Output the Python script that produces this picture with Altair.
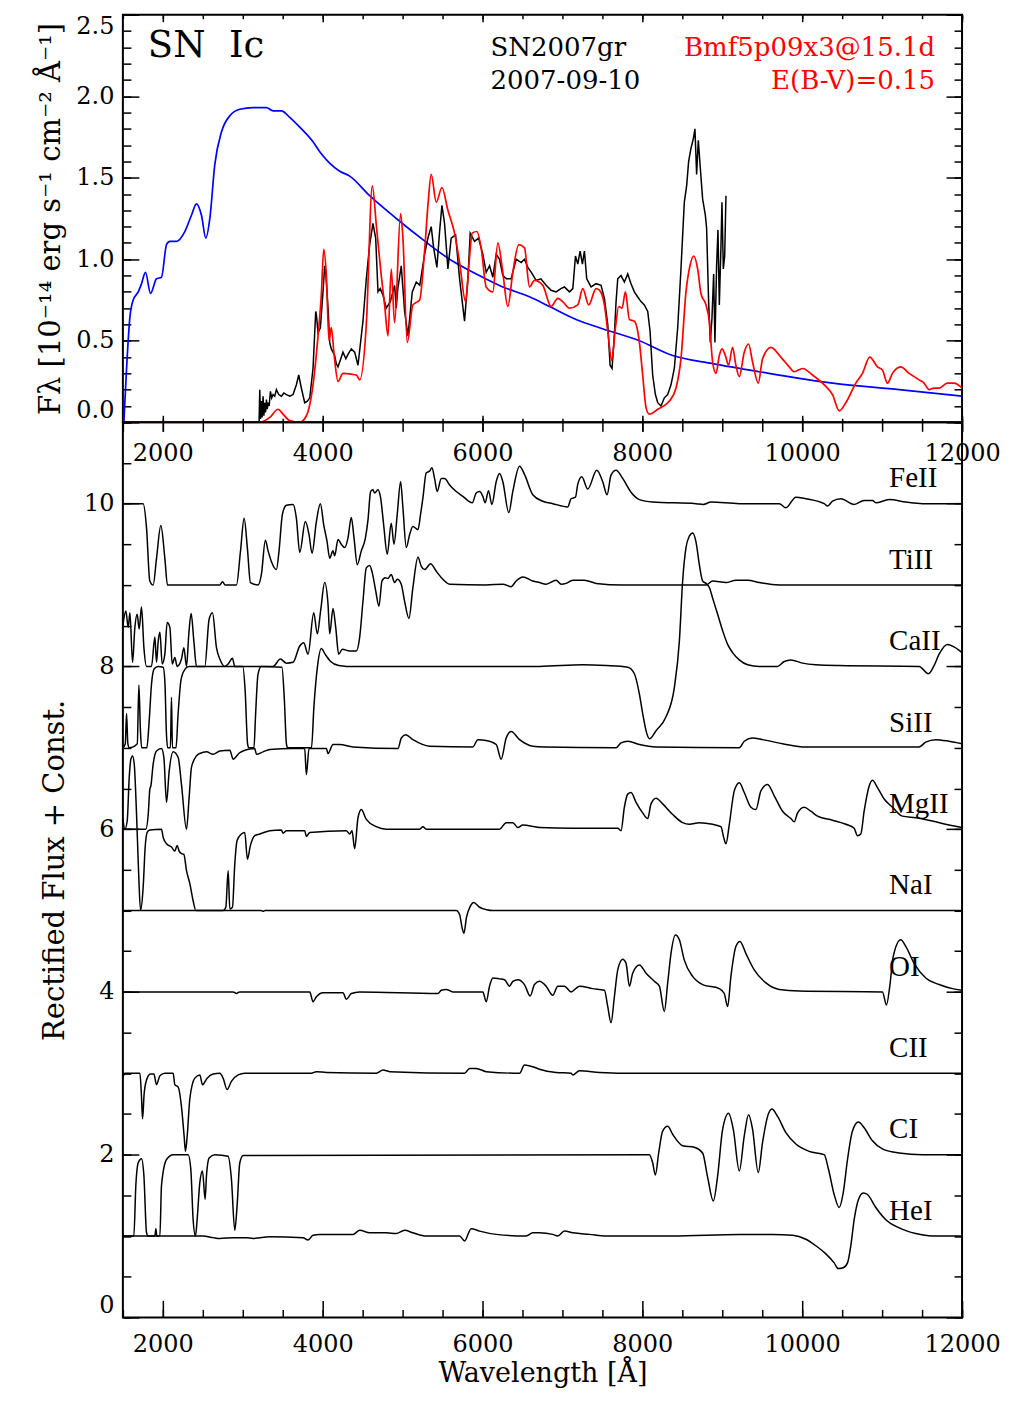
import altair as alt
import pandas as pd

# ---------------- data (wavelength [A], value) ----------------
blue_model = [(1512, 0.0), (1546, 0.33), (1587, 0.64), (1629, 0.75), (1692, 0.80), (1733, 0.85), (1783, 0.92),
              (1846, 0.79), (1921, 0.88), (1983, 0.89), (2046, 1.09), (2088, 1.11), (2171, 1.11), (2275, 1.17),
              (2358, 1.27), (2421, 1.34), (2483, 1.27), (2538, 1.13), (2588, 1.25), (2650, 1.58), (2733, 1.78),
              (2838, 1.88), (2963, 1.92), (3129, 1.93), (3296, 1.93), (3379, 1.91), (3483, 1.91), (3588, 1.87),
              (3713, 1.81), (3879, 1.72), (3963, 1.66), (4213, 1.54), (4338, 1.51), (4588, 1.39), (4921, 1.25),
              (5254, 1.12), (5588, 1.00), (5921, 0.91), (6254, 0.83), (6588, 0.77), (6838, 0.71), (7171, 0.63),
              (7463, 0.58), (7963, 0.50), (8379, 0.41), (8879, 0.36), (9463, 0.31), (10379, 0.24), (11213, 0.20),
              (12000, 0.16)]

red_model = [(1500, 0.0), (3213, 0.0), (3338, 0.03), (3442, 0.08), (3504, 0.05), (3588, 0.01), (3713, 0.0),
             (3796, 0.04), (3879, 0.23), (3942, 0.53), (3983, 0.78), (4013, 1.06), (4046, 0.90), (4079, 0.50),
             (4108, 0.58), (4142, 0.42), (4192, 0.25), (4254, 0.30), (4421, 0.29), (4463, 0.26), (4546, 0.60),
             (4621, 1.45), (4671, 1.21), (4733, 0.90), (4775, 0.72), (4817, 0.53), (4858, 0.94), (4900, 0.61),
             (4975, 1.28), (5004, 1.13), (5058, 0.49), (5129, 0.72), (5213, 0.75), (5275, 1.05), (5317, 1.33),
             (5358, 1.52), (5421, 1.35), (5492, 1.44), (5567, 1.30), (5650, 1.16), (5713, 0.98), (5788, 0.74),
             (5829, 0.96), (5871, 1.16), (5929, 1.17), (5983, 1.07), (6046, 0.83), (6129, 0.80), (6192, 1.10),
             (6246, 0.95), (6317, 0.71), (6379, 0.92), (6454, 1.09), (6525, 1.07), (6588, 0.83), (6650, 0.87),
             (6754, 0.84), (6858, 0.71), (6942, 0.76), (7004, 0.74), (7088, 0.70), (7192, 0.72), (7254, 0.82),
             (7329, 0.72), (7421, 0.82), (7463, 0.81), (7525, 0.72), (7567, 0.56), (7617, 0.38), (7663, 0.58),
             (7704, 0.71), (7746, 0.70), (7788, 0.80), (7838, 0.63), (7900, 0.62), (7963, 0.49), (8004, 0.29),
             (8046, 0.09), (8088, 0.05), (8192, 0.08), (8338, 0.13), (8421, 0.21), (8483, 0.39), (8546, 0.80),
             (8596, 0.96), (8642, 1.02), (8692, 0.94), (8733, 0.79), (8796, 0.72), (8838, 0.62), (8879, 0.37),
             (8921, 0.30), (8963, 0.41), (8996, 0.45), (9038, 0.41), (9079, 0.35), (9129, 0.46), (9170, 0.35),
             (9213, 0.28), (9275, 0.43), (9329, 0.48), (9379, 0.37), (9450, 0.24), (9504, 0.39), (9608, 0.46),
             (9733, 0.40), (9838, 0.34), (9900, 0.31), (10004, 0.33), (10129, 0.29), (10296, 0.22), (10379, 0.17),
             (10463, 0.07), (10546, 0.12), (10671, 0.24), (10754, 0.30), (10846, 0.40), (10942, 0.34), (11004, 0.32),
             (11067, 0.24), (11129, 0.30), (11233, 0.34), (11338, 0.30), (11463, 0.26), (11525, 0.24), (11588, 0.20),
             (11650, 0.21), (11713, 0.21), (11817, 0.24), (11900, 0.24), (12000, 0.21)]

observed = [(3204, 0.0), (3213, 0.20), (3222, 0.02), (3233, 0.13), (3242, 0.03), (3254, 0.16), (3264, 0.04),
            (3275, 0.12), (3285, 0.06), (3296, 0.14), (3306, 0.08), (3317, 0.12), (3330, 0.10), (3346, 0.19),
            (3362, 0.15), (3379, 0.17), (3400, 0.16), (3421, 0.20), (3450, 0.17), (3483, 0.16), (3515, 0.18),
            (3546, 0.17), (3590, 0.16), (3629, 0.17), (3671, 0.23), (3700, 0.29), (3733, 0.21), (3775, 0.12),
            (3808, 0.13), (3838, 0.15), (3879, 0.33), (3913, 0.68), (3921, 0.66), (3942, 0.55), (3971, 0.58),
            (4004, 0.80), (4025, 0.96), (4038, 0.92), (4067, 0.70), (4088, 0.49), (4108, 0.45), (4150, 0.41),
            (4170, 0.36), (4192, 0.34), (4220, 0.38), (4254, 0.43), (4290, 0.39), (4320, 0.42), (4358, 0.45),
            (4400, 0.43), (4442, 0.35), (4504, 0.62), (4546, 0.88), (4588, 1.09), (4629, 1.22), (4663, 1.13),
            (4692, 0.80), (4720, 0.82), (4754, 0.78), (4796, 0.70), (4846, 0.74), (4900, 0.84), (4920, 0.70),
            (4940, 0.82), (4983, 0.96), (5025, 0.68), (5067, 0.53), (5121, 0.80), (5171, 0.86), (5215, 0.84),
            (5275, 1.03), (5317, 1.13), (5358, 1.20), (5388, 1.07), (5429, 0.95), (5463, 1.17), (5492, 1.33),
            (5525, 1.22), (5567, 0.94), (5608, 1.13), (5663, 1.15), (5713, 0.88), (5775, 0.62), (5817, 0.88),
            (5846, 1.16), (5900, 1.11), (5950, 1.13), (6004, 1.03), (6046, 0.92), (6088, 0.96), (6129, 0.89),
            (6171, 1.03), (6213, 1.00), (6254, 0.90), (6300, 0.88), (6358, 0.88), (6421, 1.00), (6483, 0.98),
            (6525, 1.00), (6567, 0.95), (6610, 0.92), (6671, 0.87), (6730, 0.88), (6796, 0.84), (6858, 0.81),
            (6921, 0.80), (6980, 0.82), (7025, 0.83), (7088, 0.80), (7130, 0.82), (7163, 1.02), (7192, 0.97),
            (7221, 1.05), (7250, 0.97), (7275, 1.05), (7304, 0.88), (7358, 0.83), (7421, 0.85), (7483, 0.84),
            (7525, 0.76), (7567, 0.60), (7596, 0.35), (7621, 0.33), (7650, 0.54), (7671, 0.74), (7692, 0.88),
            (7733, 0.90), (7775, 0.86), (7817, 0.91), (7858, 0.85), (7900, 0.80), (7940, 0.77), (7983, 0.74),
            (8025, 0.72), (8067, 0.68), (8096, 0.56), (8129, 0.29), (8163, 0.17), (8192, 0.12), (8233, 0.10),
            (8275, 0.15), (8317, 0.17), (8358, 0.23), (8400, 0.33), (8442, 0.58), (8483, 0.94), (8525, 1.35),
            (8554, 1.45), (8579, 1.60), (8608, 1.68), (8638, 1.74), (8658, 1.80), (8679, 1.52), (8700, 1.73),
            (8725, 1.56), (8754, 1.37), (8788, 1.27), (8804, 1.19), (8829, 0.74), (8850, 0.49), (8871, 0.64),
            (8892, 0.91), (8908, 0.49), (8929, 0.96), (8946, 1.18), (8963, 0.72), (8983, 1.07), (8996, 1.35),
            (9013, 0.94), (9030, 1.02), (9046, 1.39)]

# rectified flux + const for each ion
fe_ii = [(1500, 10.0), (1754, 10.0), (1796, 9.70), (1837, 9.05), (1879, 9.0), (1921, 9.33), (1975, 9.73),
         (2025, 9.33), (2058, 9.0), (2712, 9.0), (2746, 9.04), (2780, 9.0), (2921, 9.0), (2971, 9.41),
         (3017, 9.82), (3058, 9.45), (3096, 9.03), (3192, 9.0), (3233, 9.13), (3283, 9.55), (3317, 9.42),
         (3358, 9.29), (3421, 9.19), (3454, 9.42), (3496, 9.87), (3546, 9.98), (3629, 9.99), (3671, 9.82),
         (3713, 9.40), (3783, 9.78), (3829, 9.62), (3867, 9.39), (3921, 9.78), (3971, 10.0), (4013, 9.74),
         (4054, 9.54), (4088, 9.33), (4129, 9.42), (4150, 9.36), (4192, 9.56), (4233, 9.50), (4275, 9.46),
         (4317, 9.58), (4358, 9.83), (4392, 9.58), (4433, 9.25), (4483, 9.42), (4533, 9.57), (4567, 9.80),
         (4600, 10.15), (4629, 10.17), (4650, 10.13), (4692, 10.17), (4725, 10.07), (4763, 9.74), (4808, 9.38),
         (4858, 9.76), (4892, 9.50), (4933, 9.87), (4975, 10.27), (5004, 9.95), (5046, 9.46), (5088, 9.62),
         (5129, 9.72), (5192, 9.68), (5225, 9.87), (5254, 10.07), (5296, 10.38), (5338, 10.40), (5367, 10.44),
         (5400, 10.31), (5433, 10.15), (5484, 10.31), (5525, 10.31), (5588, 10.23), (5671, 10.15), (5754, 10.09),
         (5871, 10.01), (5921, 10.13), (5963, 10.15), (6004, 10.09), (6033, 10.01), (6075, 10.16), (6117, 9.99),
         (6171, 10.27), (6213, 10.37), (6254, 10.27), (6329, 9.89), (6379, 10.15), (6463, 10.46), (6525, 10.36),
         (6629, 10.11), (6754, 10.03), (6879, 10.0), (7067, 9.96), (7108, 10.06), (7163, 10.08), (7192, 10.24),
         (7242, 10.33), (7317, 10.18), (7429, 10.41), (7504, 10.27), (7558, 10.11), (7608, 10.35), (7671, 10.41),
         (7754, 10.31), (7858, 10.14), (7963, 10.05), (8129, 10.02), (8671, 10.0), (8763, 9.99), (8858, 10.02),
         (9213, 10.0), (9713, 10.0), (9796, 9.95), (9921, 10.08), (10046, 10.06), (10275, 10.0), (10317, 9.97),
         (10379, 10.03), (10484, 10.06), (10650, 9.99), (10775, 10.04), (10879, 10.04), (10921, 10.01),
         (11088, 10.05), (11296, 10.02), (11504, 10.0), (12000, 10.0)]

ti_ii = [(1500, 8.50), (1537, 8.68), (1567, 8.48), (1588, 8.66), (1621, 8.05), (1650, 8.48), (1679, 8.64),
         (1704, 8.46), (1733, 8.73), (1763, 8.23), (1796, 8.0), (1858, 8.0), (1900, 8.36), (1921, 8.05),
         (1942, 8.31), (1963, 8.42), (1992, 8.03), (2025, 8.15), (2054, 8.54), (2088, 8.48), (2117, 8.03),
         (2150, 8.11), (2179, 8.0), (2233, 8.09), (2263, 8.23), (2296, 8.0), (2325, 8.40), (2354, 8.65),
         (2388, 8.31), (2421, 8.0), (2525, 8.0), (2579, 8.58), (2621, 8.66), (2671, 8.23), (2713, 8.09),
         (2775, 8.0), (2817, 8.03), (2871, 8.10), (2900, 8.0), (3379, 8.0), (3471, 8.09), (3546, 8.04),
         (3629, 8.05), (3713, 8.25), (3763, 8.29), (3817, 8.15), (3888, 8.66), (3933, 8.40), (3975, 8.69),
         (4025, 9.03), (4067, 8.76), (4088, 8.40), (4129, 8.71), (4163, 8.48), (4200, 8.15), (4246, 8.21),
         (4338, 8.19), (4421, 8.19), (4463, 8.36), (4504, 8.80), (4546, 9.21), (4588, 9.24), (4621, 9.15),
         (4663, 8.93), (4704, 8.74), (4742, 9.05), (4783, 9.09), (4817, 9.08), (4858, 9.13), (4900, 9.03),
         (4933, 9.07), (4983, 9.01), (5025, 8.80), (5079, 8.59), (5129, 8.97), (5192, 9.34), (5234, 9.23),
         (5275, 9.19), (5350, 9.26), (5421, 9.17), (5504, 9.07), (5588, 9.01), (6046, 9.0), (6254, 9.01),
         (6358, 8.98), (6421, 9.05), (6504, 9.10), (6629, 9.05), (6712, 9.03), (6796, 9.01), (6921, 9.06),
         (6985, 9.01), (7046, 9.02), (7129, 9.06), (7275, 9.06), (7421, 9.02), (7754, 9.0), (8796, 9.0),
         (8879, 9.05), (9046, 9.03), (9171, 9.06), (9317, 9.06), (9463, 9.03), (9713, 9.0), (12000, 9.0)]

ca_ii = [(1500, 7.0), (1530, 7.05), (1546, 7.42), (1562, 7.05), (1580, 7.0), (1680, 7.05), (1700, 7.77),
         (1720, 7.20), (1735, 7.0), (1800, 7.0), (1829, 7.33), (1858, 7.78), (1892, 7.97), (1942, 8.0),
         (2004, 7.99), (2025, 7.82), (2046, 7.15), (2060, 7.0), (2095, 7.0), (2108, 7.62), (2120, 7.0),
         (2165, 7.0), (2190, 7.40), (2230, 7.85), (2290, 7.98), (2330, 8.0), (3000, 8.0), (3030, 7.70),
         (3060, 7.05), (3075, 7.0), (3140, 7.0), (3160, 7.40), (3190, 7.90), (3230, 8.0), (3490, 7.99),
         (3520, 7.60), (3546, 7.05), (3560, 7.0), (3860, 7.0), (3890, 7.50), (3935, 8.0), (3983, 8.22),
         (4030, 8.15), (4100, 8.06), (4200, 8.01), (4300, 8.0), (6712, 8.0), (7254, 8.02), (7546, 8.01),
         (7817, 7.99), (7900, 7.91), (7963, 7.66), (8004, 7.42), (8054, 7.18), (8090, 7.11), (8171, 7.21),
         (8296, 7.38), (8400, 7.74), (8463, 8.31), (8504, 9.05), (8546, 9.46), (8588, 9.60), (8629, 9.64),
         (8671, 9.53), (8713, 9.25), (8754, 9.05), (8796, 9.02), (8838, 8.97), (8879, 8.84), (8942, 8.64),
         (9004, 8.44), (9067, 8.27), (9129, 8.17), (9213, 8.08), (9317, 8.02), (9463, 8.0), (9692, 8.0),
         (9775, 8.06), (9858, 8.08), (10004, 8.04), (10171, 8.02), (10463, 8.01), (11463, 8.0), (11579, 7.91),
         (11650, 8.01), (11713, 8.15), (11817, 8.27), (11900, 8.24), (12000, 8.17)]

si_ii = [(1500, 6.0), (1788, 6.0), (1817, 6.18), (1837, 6.49), (1850, 6.53), (1879, 6.80), (1921, 6.96),
         (1983, 6.99), (2013, 6.88), (2046, 6.33), (2079, 6.71), (2129, 6.95), (2192, 6.88), (2233, 6.55),
         (2296, 6.0), (2329, 6.39), (2358, 6.76), (2421, 6.90), (2463, 6.93), (2546, 6.95), (2629, 6.92),
         (2713, 6.96), (2838, 6.97), (2879, 6.86), (2963, 6.94), (3150, 6.99), (3171, 6.92), (3254, 6.95),
         (3338, 6.98), (3629, 6.99), (3775, 6.99), (3796, 6.67), (3829, 6.99), (4046, 6.99), (4067, 6.93),
         (4129, 7.04), (4213, 7.04), (4379, 7.01), (4942, 6.99), (4984, 7.12), (5038, 7.16), (5129, 7.10),
         (5338, 7.02), (5879, 7.01), (5942, 7.10), (6046, 7.09), (6171, 7.04), (6233, 6.86), (6296, 7.12),
         (6358, 7.20), (6463, 7.10), (6629, 7.02), (6775, 7.01), (7671, 7.0), (7733, 7.06), (7817, 7.08),
         (7963, 7.04), (8171, 7.01), (9213, 7.0), (9275, 7.08), (9379, 7.12), (9504, 7.10), (9754, 7.05),
         (10046, 7.01), (11463, 7.01), (11546, 7.07), (11671, 7.10), (11838, 7.08), (12000, 7.05)]

mg_ii = [(1500, 6.13), (1525, 6.0), (1554, 6.10), (1579, 6.63), (1600, 6.86), (1621, 6.90), (1642, 6.80),
         (1671, 6.18), (1696, 5.49), (1721, 5.0), (1754, 5.29), (1779, 5.78), (1804, 5.96), (1837, 5.99),
         (1983, 6.0), (2004, 5.90), (2046, 5.82), (2108, 5.78), (2150, 5.73), (2179, 5.80), (2204, 5.73),
         (2233, 5.70), (2263, 5.69), (2296, 5.49), (2338, 5.33), (2379, 5.12), (2413, 5.0), (2754, 5.0),
         (2788, 5.04), (2817, 5.49), (2838, 5.02), (2871, 5.04), (2900, 5.57), (2929, 5.86), (2983, 5.94),
         (3025, 5.96), (3058, 5.63), (3096, 5.80), (3150, 5.92), (3213, 5.94), (3338, 5.98), (3483, 5.99),
         (3504, 5.95), (3546, 5.98), (3775, 5.98), (3796, 5.91), (3838, 5.96), (4296, 5.98), (4338, 5.94),
         (4367, 5.98), (4400, 5.76), (4442, 6.14), (4483, 6.24), (4546, 6.12), (4671, 6.03), (4796, 6.0),
         (5213, 6.0), (5254, 6.03), (5296, 6.0), (6213, 6.0), (6296, 6.08), (6379, 6.08), (6442, 6.02),
         (6504, 6.05), (6712, 6.02), (7129, 6.01), (7692, 6.01), (7733, 5.98), (7775, 6.27), (7817, 6.43),
         (7858, 6.45), (7921, 6.33), (8004, 6.20), (8067, 6.13), (8108, 6.31), (8171, 6.38), (8254, 6.31),
         (8379, 6.18), (8504, 6.08), (8588, 6.06), (8713, 6.08), (8879, 6.06), (8983, 6.03), (9017, 5.90),
         (9046, 5.82), (9088, 6.06), (9150, 6.47), (9213, 6.57), (9275, 6.45), (9358, 6.27), (9421, 6.24),
         (9483, 6.47), (9567, 6.55), (9650, 6.41), (9754, 6.22), (9858, 6.13), (9900, 6.09), (9942, 6.20),
         (10025, 6.27), (10108, 6.22), (10192, 6.16), (10379, 6.11), (10546, 6.06), (10650, 6.01),
         (10692, 5.92), (10733, 5.94), (10775, 6.22), (10838, 6.53), (10879, 6.60), (10942, 6.51),
         (11025, 6.37), (11129, 6.27), (11254, 6.16), (11421, 6.14), (11629, 6.10), (11838, 6.05), (12000, 6.02)]

na_i = [(1500, 5.0), (3230, 5.0), (3254, 4.99), (3280, 5.0), (5671, 5.0), (5713, 4.95), (5746, 4.78),
        (5767, 4.72), (5800, 4.92), (5846, 5.05), (5888, 5.10), (5963, 5.04), (6050, 5.01), (6129, 5.0),
        (12000, 5.0)]

o_i = [(1500, 4.0), (2880, 4.0), (2921, 3.98), (2960, 4.0), (3838, 4.0), (3879, 3.88), (3921, 3.94),
       (4004, 3.99), (4254, 3.99), (4296, 3.91), (4358, 3.98), (4463, 4.0), (5442, 3.98), (5484, 4.02),
       (5546, 4.03), (5629, 4.0), (6004, 4.0), (6046, 3.88), (6088, 4.07), (6129, 4.17), (6213, 4.16),
       (6275, 4.15), (6338, 4.07), (6379, 4.13), (6442, 4.15), (6525, 4.09), (6596, 3.95), (6650, 4.09),
       (6712, 4.13), (6796, 4.07), (6879, 3.96), (6942, 4.07), (7025, 4.07), (7108, 4.0), (7213, 4.07),
       (7379, 4.04), (7525, 4.02), (7567, 3.82), (7608, 3.62), (7650, 3.94), (7692, 4.27), (7754, 4.40),
       (7796, 4.35), (7838, 4.07), (7879, 4.23), (7963, 4.33), (8046, 4.23), (8150, 4.13), (8213, 4.07),
       (8275, 3.76), (8317, 4.11), (8358, 4.47), (8413, 4.70), (8463, 4.64), (8525, 4.39), (8629, 4.19),
       (8754, 4.09), (8963, 4.04), (9025, 3.98), (9067, 3.82), (9108, 4.19), (9171, 4.56), (9221, 4.62),
       (9296, 4.47), (9400, 4.27), (9546, 4.11), (9713, 4.03), (9963, 4.01), (11004, 4.0), (11054, 3.84),
       (11096, 4.07), (11138, 4.43), (11233, 4.64), (11296, 4.56), (11400, 4.35), (11546, 4.17),
       (11713, 4.09), (11879, 4.04), (12000, 4.02)]

c_ii = [(1500, 2.94), (1525, 3.0), (1713, 3.0), (1733, 2.71), (1746, 2.44), (1767, 2.76), (1804, 2.94),
        (1846, 2.99), (1888, 2.99), (1921, 2.86), (1963, 2.97), (2025, 3.0), (2129, 3.0), (2150, 2.86),
        (2192, 2.83), (2233, 2.59), (2267, 2.22), (2283, 2.04), (2304, 2.22), (2338, 2.69), (2400, 2.94),
        (2463, 2.98), (2496, 2.86), (2554, 2.94), (2629, 2.99), (2713, 3.0), (2754, 2.94), (2804, 2.80),
        (2858, 2.90), (2942, 2.98), (3025, 3.0), (3858, 3.0), (3921, 3.02), (4046, 3.01), (4671, 3.0),
        (4754, 3.04), (4838, 3.02), (5775, 3.0), (5838, 3.06), (5921, 3.06), (6046, 3.02), (6463, 3.0),
        (6525, 3.10), (6629, 3.08), (6712, 3.05), (6921, 3.01), (7108, 3.0), (7129, 2.98), (7213, 3.03),
        (7463, 3.01), (7754, 3.0), (12000, 3.0)]

c_i = [(1500, 1.0), (1637, 1.0), (1662, 1.62), (1692, 1.90), (1733, 1.95), (1763, 1.74), (1796, 1.04),
       (1817, 1.0), (1900, 1.0), (1913, 1.09), (1925, 1.0), (1963, 1.0), (1983, 1.62), (2046, 1.94),
       (2129, 2.0), (2317, 2.0), (2350, 1.82), (2379, 1.20), (2408, 1.0), (2429, 1.20), (2463, 1.66),
       (2496, 1.80), (2529, 1.45), (2546, 1.74), (2579, 1.96), (2650, 2.0), (2817, 1.98), (2858, 1.70),
       (2900, 1.07), (2929, 1.37), (2963, 1.90), (3004, 1.99), (8088, 2.0), (8129, 1.90), (8163, 1.75),
       (8204, 2.02), (8254, 2.29), (8317, 2.35), (8379, 2.25), (8504, 2.11), (8650, 2.09), (8754, 2.02),
       (8817, 1.72), (8888, 1.43), (8942, 1.74), (9004, 2.31), (9079, 2.51), (9138, 2.31), (9213, 1.80),
       (9275, 2.23), (9329, 2.49), (9379, 2.31), (9450, 1.78), (9504, 2.15), (9567, 2.47), (9621, 2.56),
       (9692, 2.47), (9796, 2.27), (9921, 2.13), (10088, 2.04), (10275, 2.0), (10329, 1.82), (10400, 1.51),
       (10463, 1.35), (10513, 1.53), (10567, 1.94), (10629, 2.29), (10704, 2.40), (10775, 2.33),
       (10879, 2.17), (11004, 2.07), (11213, 2.02), (11504, 2.0), (12000, 2.0)]

he_i = [(1500, 1.0), (2504, 1.0), (2629, 0.98), (2713, 0.97), (2879, 0.98), (3046, 0.98), (3129, 0.97),
        (3213, 0.98), (3338, 0.99), (3754, 0.98), (3817, 0.95), (3879, 1.01), (3963, 1.02), (4379, 1.02),
        (4463, 1.07), (4588, 1.04), (4796, 1.04), (4921, 1.03), (5025, 1.07), (5129, 1.04), (5296, 1.0),
        (5713, 1.0), (5775, 0.94), (5858, 1.09), (5963, 1.06), (6171, 1.02), (6546, 1.0), (6629, 1.04),
        (6712, 1.04), (6879, 1.02), (6942, 1.0), (7025, 1.06), (7129, 1.04), (7338, 1.02), (7546, 1.0),
        (8379, 1.0), (9213, 1.02), (9629, 1.02), (9879, 1.01), (10046, 0.96), (10171, 0.88), (10296, 0.78),
        (10400, 0.67), (10450, 0.60), (10513, 0.61), (10567, 0.67), (10608, 0.88), (10650, 1.20),
        (10704, 1.45), (10763, 1.53), (10817, 1.51), (10921, 1.35), (11046, 1.20), (11213, 1.10),
        (11421, 1.03), (11629, 1.0), (12000, 1.0)]

ion_names = ["FeII", "TiII", "CaII", "SiII", "MgII", "NaI", "OI", "CII", "CI", "HeI"]
ion_curves = [fe_ii, ti_ii, ca_ii, si_ii, mg_ii, na_i, o_i, c_ii, c_i, he_i]
ion_levels = [10, 9, 8, 7, 6, 5, 4, 3, 2, 1]

x_major = [2000, 4000, 6000, 8000, 10000, 12000]
x_minor = list(range(1500, 12001, 500))
top_y_major = [0.0, 0.5, 1.0, 1.5, 2.0, 2.5]
top_y_minor = [round(0.1 * i, 1) for i in range(26)]
bot_y_major = [0, 2, 4, 6, 8, 10]
bot_y_minor = [0.5 * i for i in range(23)]

# ---------------- styling ----------------
LABEL_FONT = "DejaVu Serif"
TEXT_FONT = "Liberation Serif"
W, H_TOP, H_BOT = 840, 408, 896


def frame(pairs, **extra):
    df = pd.DataFrame(pairs, columns=["w", "v"])
    for k, val in extra.items():
        df[k] = val
    return df


xs_top = alt.Scale(domain=[1500, 12000], nice=False, zero=False)
ys_top = alt.Scale(domain=[0, 2.5], nice=False, zero=False)
xs_bot = alt.Scale(domain=[1500, 12000], nice=False, zero=False)
ys_bot = alt.Scale(domain=[0, 11], nice=False, zero=False)


def axis(orient, values, length, labels=False, fmt=None, pad=0, title=None, title_pad=0,
         flush=False, title_size=27):
    kw = dict(orient=orient, values=values, offset=-length, tickSize=length,
              tickColor="black", tickWidth=1.5, domain=False, grid=False,
              labels=labels, title=title, minExtent=0)
    if labels:
        kw.update(format=fmt, labelPadding=pad, labelFont=LABEL_FONT, labelFontSize=24,
                  labelColor="black", labelOverlap=False, labelFlush=flush)
    if title:
        kw.update(titleFont=LABEL_FONT, titleFontSize=title_size, titleFontWeight="normal",
                  titleColor="black", titlePadding=title_pad)
    return alt.Axis(**kw)


# axis carriers: no rows, so they only contribute their axes (scales have fixed domains)
EMPTY = pd.DataFrame({"w": pd.Series([], dtype=float), "v": pd.Series([], dtype=float)})


def carrier(xs, ys, xaxis, yaxis):
    return alt.Chart(EMPTY).mark_point(opacity=0).encode(
        x=alt.X("w:Q", scale=xs, axis=xaxis),
        y=alt.Y("v:Q", scale=ys, axis=yaxis))


def text_layer(label, x, y, color, align, size, font=LABEL_FONT):
    return alt.Chart(pd.DataFrame({"label": [label]})).mark_text(
        align=align, baseline="alphabetic", font=font, fontSize=size, color=color
    ).encode(x=alt.value(x), y=alt.value(y), text="label:N")


# ---------------- top panel ----------------
top_axes = [
    carrier(xs_top, ys_top,
            axis("bottom", x_major, 7, labels=True, fmt="d", pad=19),
            axis("left", top_y_major, 16, labels=True, fmt=".1f", pad=9, flush=True,
                 title="F\u03bb [10\u207b\u00b9\u2074 erg s\u207b\u00b9 cm\u207b\u00b2 \u00c5\u207b\u00b9]",
                 title_pad=10, title_size=29)),
    carrier(xs_top, ys_top, axis("bottom", x_minor, 4), axis("left", top_y_minor, 8)),
    carrier(xs_top, ys_top, axis("top", x_major, 7), axis("right", top_y_major, 16)),
    carrier(xs_top, ys_top, axis("top", x_minor, 4), axis("right", top_y_minor, 8)),
]


def spectrum(pairs, color, width, interp, xs, ys):
    return alt.Chart(frame(pairs)).mark_line(
        color=color, strokeWidth=width, interpolate=interp, clip=True
    ).encode(x=alt.X("w:Q", scale=xs, axis=None), y=alt.Y("v:Q", scale=ys, axis=None))


top_lines = [
    spectrum(blue_model, "#0000ff", 1.7, "monotone", xs_top, ys_top),
    spectrum(observed, "#000000", 1.5, "linear", xs_top, ys_top),
    spectrum(red_model, "#ff0000", 1.7, "monotone", xs_top, ys_top),
]

top_texts = [
    text_layer("SN\u00a0\u00a0Ic", 25, 42, "black", "left", 37),
    text_layer("SN2007gr", 368, 41, "black", "left", 26),
    text_layer("2007-09-10", 368, 74, "black", "left", 26),
    text_layer("Bmf5p09x3@15.1d", 813, 41, "#ff0000", "right", 26),
    text_layer("E(B-V)=0.15", 813, 74, "#ff0000", "right", 26),
]

top = alt.layer(*top_axes, *top_lines, *top_texts).resolve_axis(
    x="independent", y="independent").properties(width=W, height=H_TOP)

# ---------------- bottom panel ----------------
ions_df = pd.concat([frame(c, ion=n) for n, c in zip(ion_names, ion_curves)], ignore_index=True)
labels_df = pd.DataFrame({"name": ion_names, "ly": [lv + 0.31 for lv in ion_levels]})

bot_axes = [
    carrier(xs_bot, ys_bot,
            axis("bottom", x_major, 17, labels=True, fmt="d", pad=15,
                 title="Wavelength [\u00c5]", title_pad=4),
            axis("left", bot_y_major, 16, labels=True, fmt="d", pad=9, flush=True,
                 title="Rectified Flux + Const.", title_pad=14, title_size=29)),
    carrier(xs_bot, ys_bot, axis("bottom", x_minor, 8), axis("left", bot_y_minor, 8)),
    carrier(xs_bot, ys_bot, axis("top", x_major, 9), axis("right", bot_y_major, 16)),
    carrier(xs_bot, ys_bot, axis("top", x_minor, 9), axis("right", bot_y_minor, 8)),
]

ion_lines = alt.Chart(ions_df).mark_line(
    color="black", strokeWidth=1.5, interpolate="monotone", clip=True
).encode(
    x=alt.X("w:Q", scale=xs_bot, axis=None),
    y=alt.Y("v:Q", scale=ys_bot, axis=None),
    detail="ion:N",
)

ion_labels = alt.Chart(labels_df).mark_text(
    align="left", baseline="middle", font=TEXT_FONT, fontSize=29, color="black"
).encode(x=alt.value(767), y=alt.Y("ly:Q", scale=ys_bot, axis=None), text="name:N")

bottom = alt.layer(*bot_axes, ion_lines, ion_labels).resolve_axis(
    x="independent", y="independent").properties(width=W, height=H_BOT)

chart = alt.vconcat(top, bottom, spacing=0, bounds="flush").properties(
    padding={"left": 27, "top": 4, "right": 0, "bottom": 0}
).configure_view(stroke="black", strokeWidth=2)

chart.save("out.html", embed_options={"renderer": "svg", "actions": False})
